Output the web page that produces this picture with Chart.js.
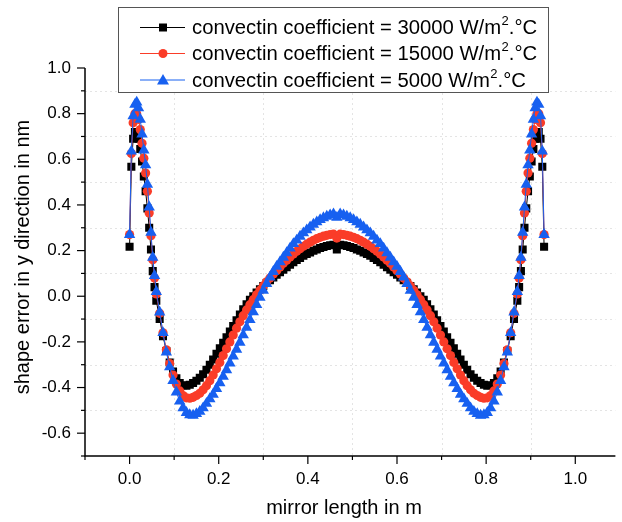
<!DOCTYPE html>
<html>
<head>
<meta charset="utf-8">
<script src="https://cdn.jsdelivr.net/npm/chart.js@4/dist/chart.umd.min.js"></script>
<style>
  html, body { margin: 0; padding: 0; background: #fff; }
</style>
</head>
<body>
<canvas id="chart1" width="622" height="522"></canvas>
<script>
// mirror length (m)
const xs = [
  0, 0.004, 0.008, 0.012, 0.016, 0.02, 0.024, 0.028, 0.032, 0.036, 0.04, 0.044, 0.048, 0.052, 0.056, 0.06,
  0.0675, 0.075, 0.0825, 0.09, 0.0975, 0.105, 0.1125, 0.12, 0.1275, 0.135, 0.1425, 0.15, 0.1575, 0.165,
  0.1725, 0.18, 0.1875, 0.195, 0.2025, 0.21, 0.2175, 0.225, 0.2325, 0.24, 0.2475, 0.255, 0.2625, 0.27,
  0.2775, 0.285, 0.2925, 0.3, 0.3075, 0.315, 0.3225, 0.33, 0.3375, 0.345, 0.3525, 0.36, 0.3675, 0.375,
  0.3825, 0.39, 0.3975, 0.405, 0.4125, 0.42, 0.4275, 0.435, 0.4425, 0.45, 0.4575, 0.465,
  0.4725, 0.48, 0.4875, 0.495, 0.5025, 0.51, 0.5175, 0.525, 0.5325, 0.54, 0.5475, 0.555, 0.5625, 0.57,
  0.5775, 0.585, 0.5925, 0.6, 0.6075, 0.615, 0.6225, 0.63, 0.6375, 0.645, 0.6525, 0.66, 0.6675, 0.675,
  0.6825, 0.69, 0.6975, 0.705, 0.7125, 0.72, 0.7275, 0.735, 0.7425, 0.75, 0.7575, 0.765, 0.7725, 0.78,
  0.7875, 0.795, 0.8025, 0.81, 0.8175, 0.825, 0.8325, 0.84, 0.8475, 0.855, 0.8625,
  0.87, 0.874, 0.878, 0.882, 0.886, 0.89, 0.894, 0.898, 0.902, 0.906, 0.91, 0.914, 0.918, 0.922, 0.926, 0.93
];

// shape error (nm), h = 30000
const err30000 = [
  0.217, 0.567, 0.69, 0.72, 0.72, 0.69, 0.645, 0.59, 0.525, 0.46,
  0.385, 0.30, 0.205, 0.11, 0.04, -0.02, -0.1, -0.175, -0.24, -0.29,
  -0.33, -0.36, -0.38, -0.39, -0.392, -0.388, -0.38, -0.37, -0.357, -0.342,
  -0.322, -0.3, -0.277, -0.252, -0.228, -0.204, -0.18, -0.155, -0.13, -0.105,
  -0.08, -0.057, -0.035, -0.015, 0.0, 0.016, 0.031, 0.045, 0.058, 0.07,
  0.082, 0.094, 0.105, 0.116, 0.127, 0.138, 0.149, 0.159, 0.168, 0.177,
  0.185, 0.192, 0.199, 0.205, 0.211, 0.216, 0.22, 0.223, 0.225,
  0.205,
  0.225, 0.223, 0.22, 0.216, 0.211, 0.205, 0.199, 0.192, 0.185,
  0.177, 0.168, 0.159, 0.149, 0.138, 0.127, 0.116, 0.105, 0.094, 0.082,
  0.07, 0.058, 0.045, 0.031, 0.016, 0.0, -0.015, -0.035, -0.057, -0.08,
  -0.105, -0.13, -0.155, -0.18, -0.204, -0.228, -0.252, -0.277, -0.3, -0.322,
  -0.342, -0.357, -0.37, -0.38, -0.388, -0.392, -0.39, -0.38, -0.36, -0.33,
  -0.29, -0.24, -0.175, -0.1, -0.02, 0.04, 0.11, 0.205, 0.30, 0.385,
  0.46, 0.525, 0.59, 0.645, 0.69, 0.72, 0.72, 0.69, 0.567, 0.217
];

// h = 15000
const err15000 = [
  0.27, 0.625, 0.76, 0.80, 0.80, 0.775, 0.73, 0.67, 0.605, 0.54,
  0.46, 0.365, 0.265, 0.16, 0.08, 0.01, -0.075, -0.16, -0.235, -0.295,
  -0.345, -0.385, -0.415, -0.435, -0.445, -0.447, -0.443, -0.435, -0.425, -0.41,
  -0.392, -0.37, -0.345, -0.318, -0.29, -0.26, -0.23, -0.2, -0.17, -0.14,
  -0.112, -0.085, -0.06, -0.037, -0.015, 0.006, 0.026, 0.045, 0.063, 0.08,
  0.097, 0.112, 0.128, 0.144, 0.158, 0.172, 0.185, 0.197, 0.208, 0.219,
  0.228, 0.237, 0.245, 0.252, 0.258, 0.263, 0.267, 0.27, 0.272,
  0.255,
  0.272, 0.27, 0.267, 0.263, 0.258, 0.252, 0.245, 0.237, 0.228,
  0.219, 0.208, 0.197, 0.185, 0.172, 0.158, 0.144, 0.128, 0.112, 0.097,
  0.08, 0.063, 0.045, 0.026, 0.006, -0.015, -0.037, -0.06, -0.085, -0.112,
  -0.14, -0.17, -0.2, -0.23, -0.26, -0.29, -0.318, -0.345, -0.37, -0.392,
  -0.41, -0.425, -0.435, -0.443, -0.447, -0.445, -0.435, -0.415, -0.385, -0.345,
  -0.295, -0.235, -0.16, -0.075, 0.01, 0.08, 0.16, 0.265, 0.365, 0.46,
  0.54, 0.605, 0.67, 0.73, 0.775, 0.80, 0.80, 0.76, 0.625, 0.27
];

// h = 5000
const err5000 = [
  0.27, 0.635, 0.79, 0.84, 0.85, 0.825, 0.775, 0.71, 0.64, 0.575,
  0.49, 0.39, 0.28, 0.17, 0.09, 0.02, -0.07, -0.16, -0.245, -0.31,
  -0.37, -0.42, -0.46, -0.49, -0.51, -0.52, -0.522, -0.515, -0.505, -0.49,
  -0.47, -0.45, -0.43, -0.405, -0.38, -0.352, -0.323, -0.293, -0.263, -0.233,
  -0.202, -0.17, -0.137, -0.103, -0.069, -0.037, -0.005, 0.025, 0.055, 0.083,
  0.108, 0.13, 0.15, 0.17, 0.19, 0.21, 0.23, 0.245, 0.262, 0.277,
  0.29, 0.303, 0.315, 0.325, 0.335, 0.343, 0.35, 0.356, 0.36,
  0.345,
  0.36, 0.356, 0.35, 0.343, 0.335, 0.325, 0.315, 0.303, 0.29,
  0.277, 0.262, 0.245, 0.23, 0.21, 0.19, 0.17, 0.15, 0.13, 0.108,
  0.083, 0.055, 0.025, -0.005, -0.037, -0.069, -0.103, -0.137, -0.17, -0.202,
  -0.233, -0.263, -0.293, -0.323, -0.352, -0.38, -0.405, -0.43, -0.45, -0.47,
  -0.49, -0.505, -0.515, -0.522, -0.52, -0.51, -0.49, -0.46, -0.42, -0.37,
  -0.31, -0.245, -0.16, -0.07, 0.02, 0.09, 0.17, 0.28, 0.39, 0.49,
  0.575, 0.64, 0.71, 0.775, 0.825, 0.85, 0.84, 0.79, 0.635, 0.27
];

const seriesLabels = [
  "convectin coefficient = 30000 W/m².°C",
  "convectin coefficient = 15000 W/m².°C",
  "convectin coefficient = 5000 W/m².°C"
];

const xMajor = [0, 0.2, 0.4, 0.6, 0.8, 1.0];
const xMinor = [-0.1, 0.1, 0.3, 0.5, 0.7, 0.9];
const yMajor = [-0.6, -0.4, -0.2, 0, 0.2, 0.4, 0.6, 0.8, 1.0];
const yMinor = [-0.7, -0.5, -0.3, -0.1, 0.1, 0.3, 0.5, 0.7, 0.9];

const FONT = '"Liberation Sans", Arial, sans-serif';
const RED = "#fa3c28";
const BLUE = "#1760f0";

function pts(ys) {
  return ys.map((v, i) => ({ x: xs[i], y: v }));
}

function setTicks(major, minor) {
  return (scale) => {
    scale.ticks = major.concat(minor).sort((a, b) => a - b).map(v => ({ value: v }));
  };
}

function isMajor(list, v) {
  return list.some(m => Math.abs(m - v) < 1e-6);
}

const frame = {
  id: "frame",
  beforeDatasetsDraw(chart) {
    const { ctx, chartArea: a, scales: { x, y } } = chart;
    ctx.save();
    ctx.strokeStyle = "#e4e4e4";
    ctx.lineWidth = 1;
    ctx.setLineDash([2, 3]);
    xMinor.forEach(v => {
      if (v <= x.min) return;
      const px = Math.round(x.getPixelForValue(v)) + 0.5;
      ctx.beginPath(); ctx.moveTo(px, a.top); ctx.lineTo(px, a.bottom); ctx.stroke();
    });
    yMinor.forEach(v => {
      if (v <= y.min) return;
      const py = Math.round(y.getPixelForValue(v)) + 0.5;
      ctx.beginPath(); ctx.moveTo(a.left, py); ctx.lineTo(a.right, py); ctx.stroke();
    });
    ctx.restore();
  },
  afterDatasetsDraw(chart) {
    const { ctx, chartArea: a, scales: { x, y } } = chart;
    ctx.save();
    ctx.strokeStyle = "#000";
    ctx.lineWidth = 1.5;
    ctx.beginPath();
    ctx.moveTo(a.left, a.top); ctx.lineTo(a.left, a.bottom); ctx.lineTo(a.right, a.bottom);
    ctx.stroke();
    ctx.lineWidth = 1.2;
    xMajor.concat(xMinor).forEach(v => {
      const px = x.getPixelForValue(v);
      const len = isMajor(xMajor, v) ? 8 : 4;
      ctx.beginPath(); ctx.moveTo(px, a.bottom); ctx.lineTo(px, a.bottom + len); ctx.stroke();
    });
    yMajor.concat(yMinor).forEach(v => {
      const py = y.getPixelForValue(v);
      const len = isMajor(yMajor, v) ? 8 : 4;
      ctx.beginPath(); ctx.moveTo(a.left, py); ctx.lineTo(a.left - len, py); ctx.stroke();
    });
    ctx.restore();
  },
  afterDraw(chart) {
    const { ctx } = chart;
    ctx.save();
    // axis titles
    ctx.fillStyle = "#000";
    ctx.font = "20px " + FONT;
    ctx.textAlign = "center";
    ctx.textBaseline = "middle";
    ctx.fillText("mirror length in m", 344, 508);
    ctx.translate(23, 257);
    ctx.rotate(-Math.PI / 2);
    ctx.fillText("shape error in y direction in nm", 0, 0);
    ctx.restore();

    // legend box
    ctx.save();
    ctx.fillStyle = "#fff";
    ctx.fillRect(118, 7, 430, 85);
    ctx.strokeStyle = "#555";
    ctx.lineWidth = 1;
    ctx.strokeRect(118.5, 7.5, 430, 85);
    const rows = [27.5, 53.5, 80];
    chart.data.datasets.forEach((ds, i) => {
      const yy = rows[i];
      ctx.strokeStyle = ds.borderColor;
      ctx.fillStyle = ds.borderColor;
      ctx.lineWidth = 1;
      ctx.beginPath(); ctx.moveTo(140, yy); ctx.lineTo(185, yy); ctx.stroke();
      const cx = 163;
      ctx.beginPath();
      if (ds.pointStyle === "rect") {
        ctx.rect(cx - 4, yy - 4, 8, 8);
      } else if (ds.pointStyle === "circle") {
        ctx.arc(cx, yy, 4.5, 0, Math.PI * 2);
      } else {
        ctx.moveTo(cx, yy - 6); ctx.lineTo(cx + 6, yy + 4.5); ctx.lineTo(cx - 6, yy + 4.5); ctx.closePath();
      }
      ctx.fill();
      // label with superscript 2
      const parts = seriesLabels[i].split("²");
      ctx.fillStyle = "#000";
      ctx.textAlign = "left";
      ctx.textBaseline = "middle";
      ctx.font = "20.3px " + FONT;
      let tx = 192;
      ctx.fillText(parts[0], tx, yy + 1);
      tx += ctx.measureText(parts[0]).width;
      ctx.font = "13px " + FONT;
      ctx.fillText("2", tx + 0.5, yy - 6);
      tx += ctx.measureText("2").width + 0.5;
      ctx.font = "20.3px " + FONT;
      ctx.fillText(parts[1], tx, yy + 1);
    });
    ctx.restore();
  }
};

const ctx1 = document.getElementById("chart1").getContext("2d");
const chart1 = new Chart(ctx1, {
  type: "scatter",
  data: {
    datasets: [
      {
        label: seriesLabels[0],
        data: pts(err30000),
        showLine: true,
        borderColor: "#000000",
        backgroundColor: "#000000",
        borderWidth: 1,
        pointStyle: "rect",
        pointRadius: 5.7,
        pointBorderWidth: 0,
        order: 2,
      },
      {
        label: seriesLabels[1],
        data: pts(err15000),
        showLine: true,
        borderColor: RED,
        backgroundColor: RED,
        borderWidth: 1,
        pointStyle: "circle",
        pointRadius: 4.6,
        pointBorderWidth: 0,
        order: 1,
      },
      {
        label: seriesLabels[2],
        data: pts(err5000),
        showLine: true,
        borderColor: BLUE,
        backgroundColor: BLUE,
        borderWidth: 1,
        pointStyle: "triangle",
        pointRadius: 6.6,
        pointBorderWidth: 0,
        order: 0,
      },
    ],
  },
  options: {
    responsive: false,
    animation: false,
    devicePixelRatio: 1,
    layout: { padding: { top: 68, right: 0, left: 0, bottom: 0 } },
    plugins: {
      legend: { display: false },
      tooltip: { enabled: false },
    },
    scales: {
      x: {
        type: "linear",
        min: -0.1,
        max: 1.09,
        afterBuildTicks: setTicks(xMajor, xMinor),
        afterFit: (s) => { s.height = 66; },
        grid: { display: false, drawTicks: false },
        border: { display: false },
        ticks: {
          autoSkip: false,
          maxRotation: 0,
          padding: 13,
          color: "#000",
          font: { family: FONT, size: 17 },
          callback: (v) => isMajor(xMajor, v) ? v.toFixed(1) : "",
        },
      },
      y: {
        type: "linear",
        min: -0.7,
        max: 1.0,
        afterBuildTicks: setTicks(yMajor, yMinor),
        afterFit: (s) => { s.width = 85; },
        grid: { display: false, drawTicks: false },
        border: { display: false },
        ticks: {
          autoSkip: false,
          padding: 14,
          color: "#000",
          font: { family: FONT, size: 17 },
          callback: (v) => isMajor(yMajor, v) ? v.toFixed(1) : "",
        },
      },
    },
  },
  plugins: [frame],
});
</script>
</body>
</html>
